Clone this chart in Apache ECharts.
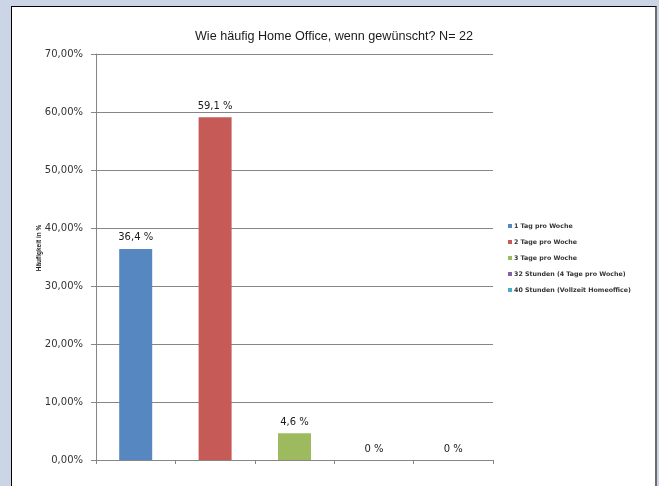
<!DOCTYPE html>
<html lang="de">
<head>
    <meta charset="UTF-8"/>
    <title>Wie häufig Home Office</title>
    <style>
        html, body {
            margin: 0;
            padding: 0;
            width: 659px;
            height: 486px;
            background: #CBD5E6;
            overflow: hidden;
            font-family: "Liberation Sans", Arial, sans-serif;
        }

        #frame {
            position: absolute;
            left: 11px;
            top: 6px;
            width: 643px;
            height: 490px;
            background: #ffffff;
            border-left: 1px solid #000;
            border-top: 1px solid #000;
            border-right: 2px solid #6d6d6d;
        }

        #chart {
            position: absolute;
            left: 0;
            top: 0;
            width: 659px;
            height: 486px;
        }
    </style>
</head>
<body>
<div id="frame"></div>
<div id="chart"></div>
<script src="https://cdn.jsdelivr.net/npm/echarts@6/dist/echarts.min.js"></script>
<script>
    const chart = echarts.init(document.getElementById('chart'));

    const categories = ['1 Tag pro Woche', '2 Tage pro Woche', '3 Tage pro Woche',
        '32 Stunden (4 Tage pro Woche)', '40 Stunden (Vollzeit Homeoffice)'];
    const values = [36.4, 59.1, 4.6, 0, 0];
    const yTicks = [0, 10, 20, 30, 40, 50, 60, 70];
    const colors = ['#5687C1', '#C55A57', '#9DBB5E', '#8064A2', '#4BACC6'];

    const fmt = v => (v === 0 ? '0' : v.toFixed(1).replace('.', ',')) + ' %';

    // one series per category so every bar gets its own legend entry
    const series = categories.map((name, i) => ({
        name: name,
        type: 'bar',
        stack: 'all',
        barWidth: 33,
        itemStyle: {color: colors[i]},
        label: {
            show: true,
            position: 'top',
            distance: 6,
            color: '#1a1a1a',
            fontFamily: '"DejaVu Sans", sans-serif',
            fontSize: 10,
            formatter: p => fmt(p.value)
        },
        data: categories.map((c, j) => j === i ? values[i] : '-')
    }));

    const option = {
        animation: false,
        backgroundColor: 'transparent',
        textStyle: {fontFamily: '"Liberation Sans", Arial, sans-serif'},
        title: {
            text: 'Wie häufig Home Office, wenn gewünscht? N= 22',
            left: 329,
            textAlign: 'center',
            top: 25,
            textStyle: {fontSize: 12.6, fontWeight: 'normal', color: '#1a1a1a'}
        },
        legend: {
            orient: 'vertical',
            left: 503,
            top: 218,
            itemWidth: 4,
            itemHeight: 4,
            itemGap: 10,
            icon: 'rect',
            textStyle: {
                fontSize: 6.3,
                fontWeight: 'bold',
                fontFamily: '"DejaVu Sans", sans-serif',
                color: '#333',
                padding: [0, 0, 0, -3]
            },
            data: categories
        },
        grid: {
            left: 96,
            right: 166,
            top: 54,
            bottom: 26
        },
        xAxis: {
            type: 'category',
            data: categories,
            axisLine: {lineStyle: {color: '#868686'}},
            axisTick: {show: true, interval: 0, length: 4, lineStyle: {color: '#868686'}},
            axisLabel: {show: false, interval: 0}
        },
        yAxis: {
            type: 'value',
            min: 0,
            max: yTicks[yTicks.length - 1],
            interval: 10,
            name: 'Häufigkeit in %',
            nameLocation: 'middle',
            nameGap: 53,
            nameMoveOverlap: false,
            nameTextStyle: {fontSize: 6.5, fontWeight: 'bold', color: '#1a1a1a', padding: [0, 0, 0, 18]},
            axisLine: {show: true, lineStyle: {color: '#868686'}},
            axisTick: {show: true, length: 5, lineStyle: {color: '#868686'}},
            axisLabel: {
                fontSize: 10,
                fontFamily: '"DejaVu Sans", sans-serif',
                color: '#333',
                margin: 13,
                formatter: v => v.toFixed(2).replace('.', ',') + '%'
            },
            splitLine: {lineStyle: {color: '#868686'}}
        },
        series: series
    };

    chart.setOption(option);
</script>
</body>
</html>
